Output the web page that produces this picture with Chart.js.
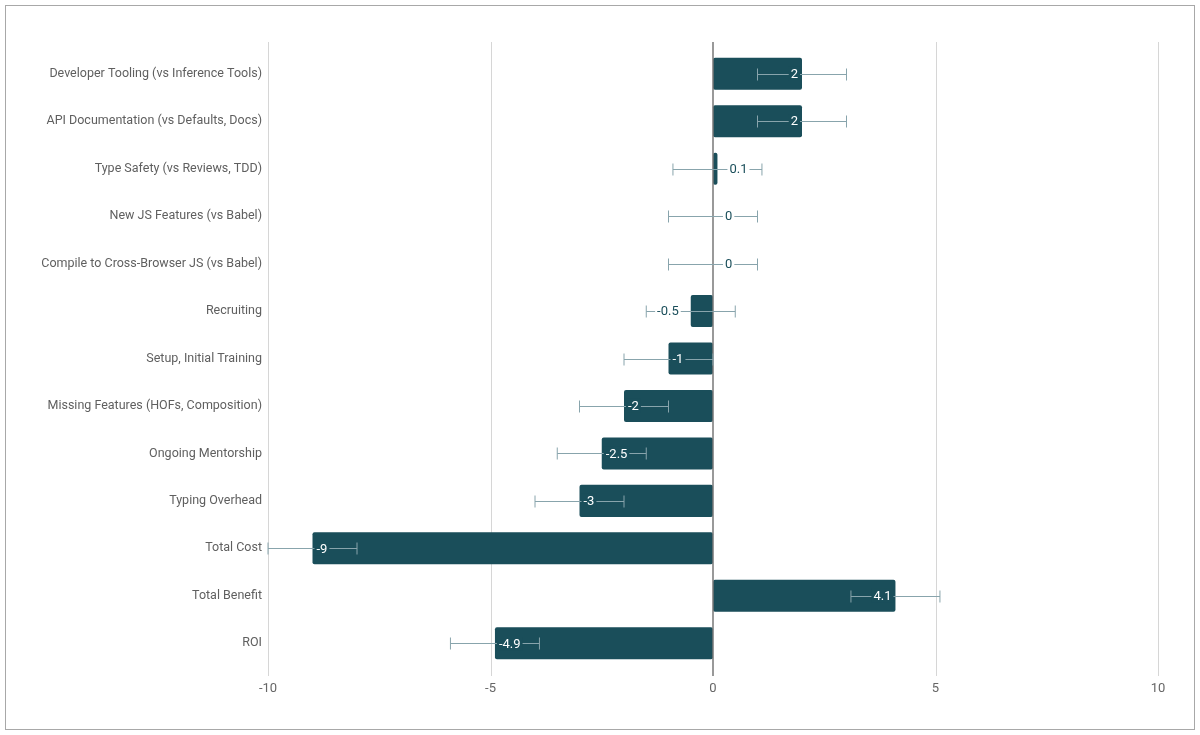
<!DOCTYPE html>
<html>
<head>
<meta charset="utf-8">
<script src="https://cdn.jsdelivr.net/npm/chart.js@4"></script>
<style>
  body { margin: 0; background: #fff; }
  #frame {
    position: absolute; left: 5px; top: 5px;
    width: 1188px; height: 723px;
    border: 1px solid #a8a8a8;
  }
</style>
</head>
<body>
<div id="frame"><canvas id="chart"></canvas></div>
<script>
const categories = [
  "Developer Tooling (vs Inference Tools)",
  "API Documentation (vs Defaults, Docs)",
  "Type Safety (vs Reviews, TDD)",
  "New JS Features (vs Babel)",
  "Compile to Cross-Browser JS (vs Babel)",
  "Recruiting",
  "Setup, Initial Training",
  "Missing Features (HOFs, Composition)",
  "Ongoing Mentorship",
  "Typing Overhead",
  "Total Cost",
  "Total Benefit",
  "ROI"
];
const values = [2, 2, 0.1, 0, 0, -0.5, -1, -2, -2.5, -3, -9, 4.1, -4.9];
const errMargin = [1, 1, 1, 1, 1, 1, 1, 1, 1, 1, 1, 1, 1];
const xTicks = [-10, -5, 0, 5, 10];

const barColor = "#1a4e5a";
const errColor = "#88a4ac";

const gridPlugin = {
  id: "grid",
  beforeDatasetsDraw(chart) {
    const { ctx, chartArea, scales } = chart;
    ctx.save();
    ctx.strokeStyle = "#d6d6d6";
    ctx.lineWidth = 1;
    xTicks.forEach(v => {
      if (v === 0) return;
      const x = Math.round(scales.x.getPixelForValue(v)) + 0.5;
      ctx.beginPath();
      ctx.moveTo(x, chartArea.top - 8);
      ctx.lineTo(x, chartArea.bottom + 9);
      ctx.stroke();
    });
    ctx.restore();
  },
  afterDatasetsDraw(chart) {
    const { ctx, chartArea, scales } = chart;
    ctx.save();
    ctx.strokeStyle = "#777";
    ctx.lineWidth = 1.5;
    const x = scales.x.getPixelForValue(0);
    ctx.beginPath();
    ctx.moveTo(x, chartArea.top - 8);
    ctx.lineTo(x, chartArea.bottom + 9);
    ctx.stroke();

    // error bars
    ctx.strokeStyle = errColor;
    ctx.lineWidth = 1;
    values.forEach((v, i) => {
      const y = Math.round(scales.y.getPixelForValue(i)) + 0.5;
      const x1 = scales.x.getPixelForValue(v - errMargin[i]);
      const x2 = scales.x.getPixelForValue(v + errMargin[i]);
      ctx.beginPath();
      ctx.moveTo(x1, y); ctx.lineTo(x2, y);
      ctx.moveTo(x1, y - 6); ctx.lineTo(x1, y + 6);
      ctx.moveTo(x2, y - 6); ctx.lineTo(x2, y + 6);
      ctx.stroke();
    });

    // value labels
    ctx.font = "13px Roboto";
    ctx.textBaseline = "middle";
    const zero = scales.x.getPixelForValue(0);
    values.forEach((v, i) => {
      const y = scales.y.getPixelForValue(i);
      const end = scales.x.getPixelForValue(v);
      const txt = String(v);
      const w = ctx.measureText(txt).width;
      const len = Math.abs(end - zero);
      let tx, bg, fg;
      if (len > w + 10) {
        tx = v >= 0 ? end - 4 - w : end + 4;
        bg = barColor; fg = "#fff";
      } else {
        tx = v >= 0 ? end + 12 : end - 12 - w;
        bg = "#fff"; fg = barColor;
      }
      ctx.fillStyle = bg;
      ctx.fillRect(tx - 2, y - 7, w + 4, 14);
      ctx.fillStyle = fg;
      ctx.textAlign = "left";
      ctx.fillText(txt, tx, y + 1);
    });
    ctx.restore();
  }
};

new Chart(document.getElementById("chart"), {
  type: "bar",
  data: {
    labels: categories,
    datasets: [{
      data: values,
      backgroundColor: barColor,
      borderRadius: 2,
      borderSkipped: false,
      barPercentage: 0.75,
      categoryPercentage: 0.9
    }]
  },
  options: {
    indexAxis: "y",
    responsive: true,
    maintainAspectRatio: false,
    animation: false,
    layout: { padding: { top: 44, right: 36, bottom: 22, left: 0 } },
    plugins: {
      legend: { display: false },
      tooltip: { enabled: false }
    },
    scales: {
      x: {
        min: -10, max: 10,
        afterBuildTicks: s => { s.ticks = xTicks.map(v => ({ value: v })); },
        afterFit: s => { s.height = 40; },
        grid: { display: false, drawTicks: false },
        border: { display: false },
        ticks: { color: "#666", font: { family: "Roboto", size: 13 }, padding: 14 }
      },
      y: {
        afterFit: s => { s.width = 262; },
        grid: { display: false, drawTicks: false },
        border: { display: false },
        ticks: { color: "#5f5f5f", font: { family: "Roboto", size: 12.5 }, padding: 6 }
      }
    }
  },
  plugins: [gridPlugin]
});
</script>
</body>
</html>
